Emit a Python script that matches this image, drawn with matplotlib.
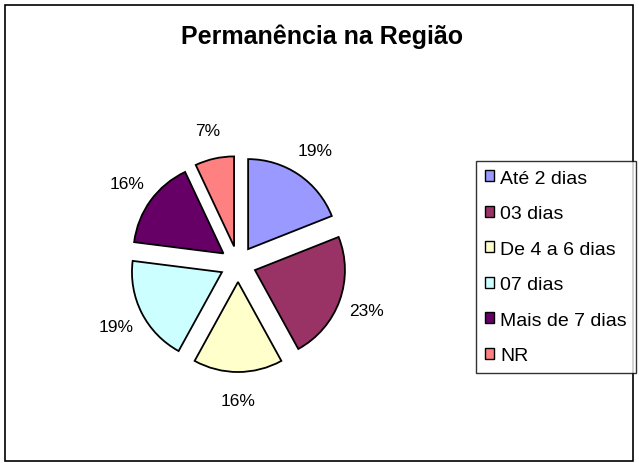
import matplotlib
matplotlib.use("Agg")
import matplotlib.pyplot as plt
from matplotlib.patches import Rectangle, Patch

plt.rcParams['font.family'] = ['Liberation Sans', 'DejaVu Sans']

categories = ["Até 2 dias", "03 dias", "De 4 a 6 dias", "07 dias", "Mais de 7 dias", "NR"]
values = [19, 23, 16, 19, 16, 7]
colors = ["#9999FF", "#993366", "#FFFFCC", "#CCFFFF", "#660066", "#FF8080"]
title = "Permanência na Região"

W, H = 639, 464
fig = plt.figure(figsize=(W / 100, H / 100), dpi=100)
ax = fig.add_axes([0, 0, 1, 1])

# outer frame
ax.add_patch(Rectangle((5, 2), 628, 456, fill=False, edgecolor='black', lw=1.2))

radius = 90
wedges, texts = ax.pie(
    values, colors=colors, startangle=90, counterclock=False,
    center=(238, H - 265), radius=radius, explode=[18] * len(values),
    wedgeprops=dict(edgecolor='black', linewidth=1.3),
    labels=[f"{v}%" for v in values], labeldistance=1.32,
    textprops=dict(fontsize=12.5, color='black'),
    frame=True,
)
for t in texts:
    t.set_horizontalalignment('center')
    t.set_verticalalignment('center')
ax.set_xlim(0, W)
ax.set_ylim(0, H)
ax.set_aspect('equal')
ax.axis('off')

ax.text(322, H - 37, title, ha='center', va='center', fontsize=18, fontweight='bold')

handles = [Patch(facecolor=c, edgecolor='black', lw=1.0) for c in colors]
leg = fig.legend(handles, categories, loc='upper left',
                 bbox_to_anchor=(476 / W, 1 - 162 / H), fontsize=14,
                 frameon=True, fancybox=False, edgecolor='black',
                 handlelength=0.5, handleheight=0.5, handletextpad=0.3,
                 labelspacing=0.95, borderpad=0.45, borderaxespad=0)
leg.get_frame().set_linewidth(1.0)

fig.savefig("out.png", dpi=100)
